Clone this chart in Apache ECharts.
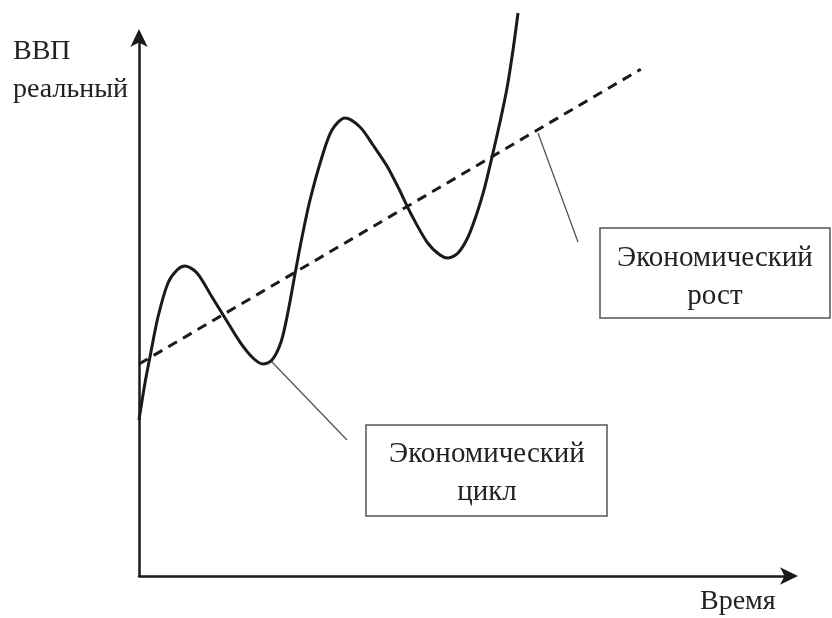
<!DOCTYPE html>
<html><head><meta charset="utf-8">
<script src="https://cdn.jsdelivr.net/npm/echarts@6/dist/echarts.min.js"></script>
<style>html,body{margin:0;padding:0;background:#fff}#c{width:832px;height:618px}</style>
</head><body><div id="c"></div>
<script>
// Business cycle curve (time, real GDP) in abstract units 0..100
const cycleTime = [0.00, 0.92, 1.69, 2.92, 4.46, 5.85, 7.08, 8.92, 11.23, 13.23, 15.54, 17.54, 19.08, 20.46, 21.85, 22.92, 24.00, 25.08, 26.31, 28.15, 29.69, 31.69, 34.00, 36.00, 38.15, 40.00, 41.85, 44.31, 46.31, 47.54, 49.08, 50.62, 52.00, 53.08, 54.31, 55.54, 56.62, 57.54, 58.31];
const cycleGDP  = [29.00, 35.87, 40.71, 48.14, 54.46, 56.88, 57.62, 56.32, 51.86, 47.96, 43.49, 40.52, 39.41, 40.15, 43.49, 49.07, 56.13, 63.01, 69.89, 77.88, 82.90, 85.13, 83.46, 80.11, 76.21, 71.93, 67.29, 62.08, 59.67, 59.11, 60.04, 63.01, 67.47, 71.75, 77.88, 84.39, 90.71, 97.77, 104.65];
// Trend (economic growth) line
const trendTime = [0, 77.2];
const trendGDP  = [39.4, 94.2];
// Texts
const yAxisTitle = ['ВВП', 'реальный'];
const xAxisTitle = 'Время';
const growthLabel = ['Экономический', 'рост'];
const cycleLabel = ['Экономический', 'цикл'];

const FONT = '"Liberation Serif", "DejaVu Serif", serif';
const chart = echarts.init(document.getElementById('c'), null, {renderer: 'canvas'});
const zip = (a, b) => a.map((v, i) => [v, b[i]]);

chart.setOption({
  animation: false,
  backgroundColor: '#fff',
  grid: {left: 139, right: 43, top: 38, bottom: 42},
  xAxis: {type: 'value', min: 0, max: 100, splitLine: {show: false}, axisTick: {show: false}, axisLabel: {show: false},
    axisLine: {show: true, symbol: ['none', 'arrow'], symbolSize: [13, 18], symbolOffset: [0, 9], lineStyle: {color: '#1a1a1a', width: 2.5}}},
  yAxis: {type: 'value', min: 0, max: 100, splitLine: {show: false}, axisTick: {show: false}, axisLabel: {show: false},
    axisLine: {show: true, symbol: ['none', 'arrow'], symbolSize: [13, 18], symbolOffset: [0, 9], lineStyle: {color: '#1a1a1a', width: 2.5}}},
  series: [
    {type: 'line', data: zip(trendTime, trendGDP), showSymbol: false, clip: false,
      lineStyle: {color: '#1a1a1a', width: 3, type: [10, 7]}},
    {type: 'line', data: zip(cycleTime, cycleGDP), showSymbol: false, smooth: 0.3, clip: false,
      lineStyle: {color: '#1a1a1a', width: 3}}
  ],
  graphic: [
    {type: 'text', left: 13, top: 33, style: {text: yAxisTitle.join('\n'), font: '28px ' + FONT, fill: '#222', lineHeight: 38}},
    {type: 'text', left: 700, top: 588, style: {text: xAxisTitle, font: '28px ' + FONT, fill: '#222'}},
    // growth leader + box
    {type: 'line', shape: {x1: 538, y1: 133, x2: 578, y2: 242}, style: {stroke: '#555', lineWidth: 1.3}},
    {type: 'rect', shape: {x: 600, y: 228, width: 230, height: 90}, style: {fill: '#fff', stroke: '#555', lineWidth: 1.5}},
    {type: 'text', x: 715, y: 277, style: {text: growthLabel.join('\n'), font: '29px ' + FONT, fill: '#222', align: 'center', verticalAlign: 'middle', lineHeight: 38}},
    // cycle leader + box
    {type: 'line', shape: {x1: 272, y1: 362, x2: 347, y2: 440}, style: {stroke: '#555', lineWidth: 1.3}},
    {type: 'rect', shape: {x: 366, y: 425, width: 241, height: 91}, style: {fill: '#fff', stroke: '#555', lineWidth: 1.5}},
    {type: 'text', x: 487, y: 473, style: {text: cycleLabel.join('\n'), font: '29px ' + FONT, fill: '#222', align: 'center', verticalAlign: 'middle', lineHeight: 38}}
  ]
});
</script></body></html>
